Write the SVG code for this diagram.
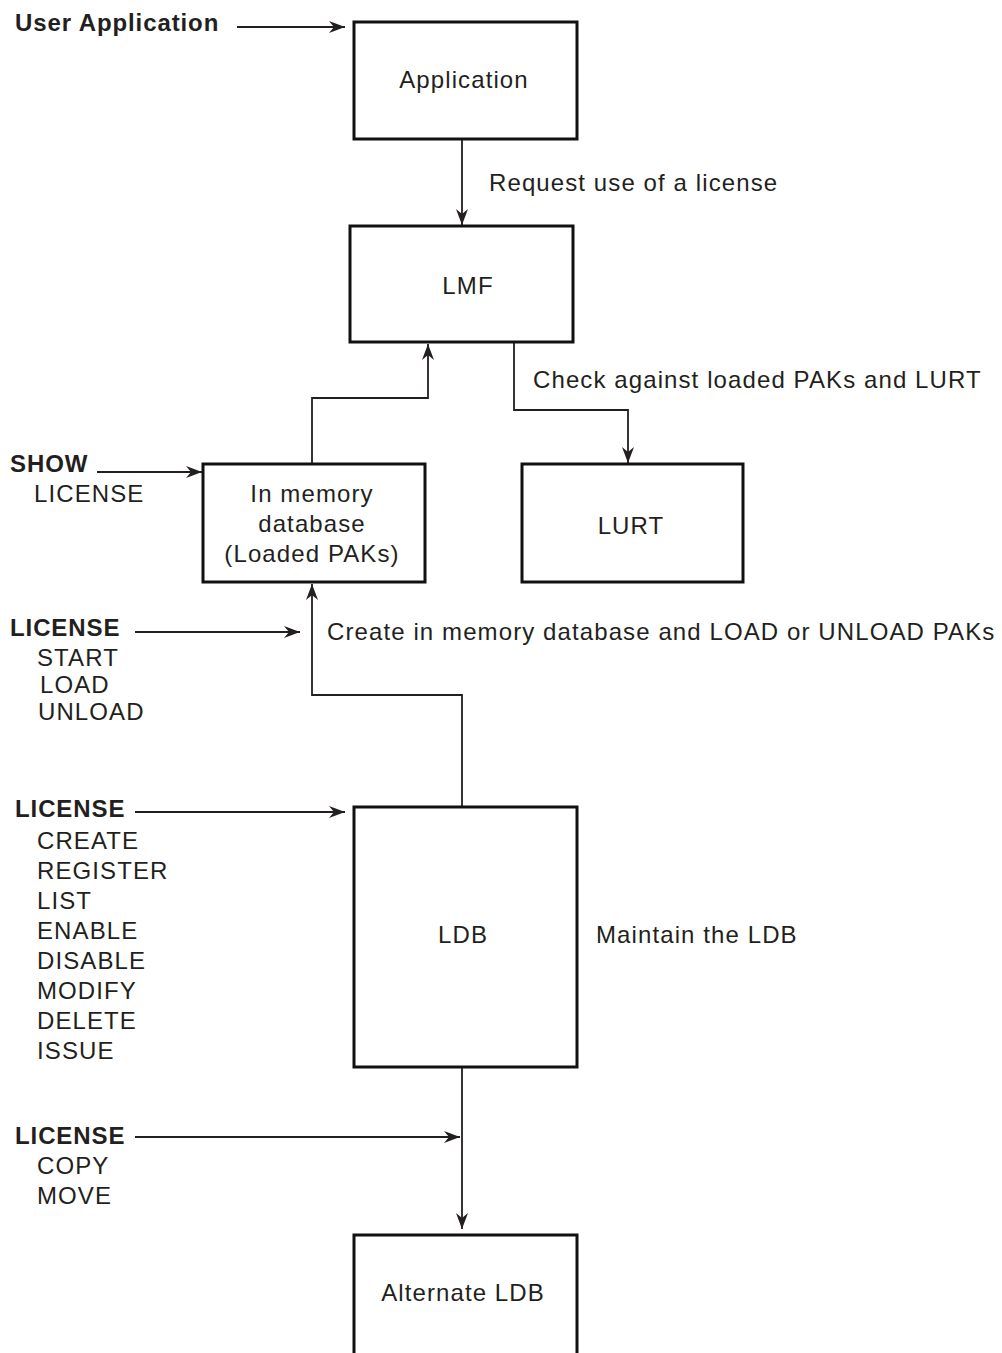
<svg xmlns="http://www.w3.org/2000/svg" width="1002" height="1353" viewBox="0 0 1002 1353">
<defs>
<style>
.box{fill:#fff;stroke:#111;stroke-width:3}
.t{font-family:"Liberation Sans",Arial,sans-serif;font-size:24px;letter-spacing:1.1px;fill:#231f20}
.b{font-weight:bold;letter-spacing:0.9px}
.m{text-anchor:middle}
.ln{fill:none;stroke:#231f20;stroke-width:1.8}
</style>
<marker id="ah" markerUnits="userSpaceOnUse" markerWidth="18" markerHeight="14" refX="16" refY="6" orient="auto">
<path d="M0,0 L16,6 L0,12 L5,6 z" fill="#231f20"/>
</marker>
</defs>
<rect width="1002" height="1353" fill="#fff"/>

<g id="connectors">
<line class="ln" x1="237" y1="27" x2="345" y2="27" marker-end="url(#ah)"/>
<line class="ln" x1="462" y1="139" x2="462" y2="225" marker-end="url(#ah)"/>
<polyline class="ln" points="514,342 514,410 628,410 628,463" marker-end="url(#ah)"/>
<polyline class="ln" points="312,464 312,398 428,398 428,344" marker-end="url(#ah)"/>
<line class="ln" x1="97" y1="472" x2="202" y2="472" marker-end="url(#ah)"/>
<polyline class="ln" points="462,807 462,695 312,695 312,584" marker-end="url(#ah)"/>
<line class="ln" x1="135" y1="632" x2="300" y2="632" marker-end="url(#ah)"/>
<line class="ln" x1="135" y1="812" x2="345" y2="812" marker-end="url(#ah)"/>
<line class="ln" x1="462" y1="1067" x2="462" y2="1229" marker-end="url(#ah)"/>
<line class="ln" x1="135" y1="1137" x2="460" y2="1137" marker-end="url(#ah)"/>
</g>

<g id="application">
<rect class="box" x="354" y="22" width="223" height="117"/>
<text class="t m" x="464" y="88">Application</text>
</g>
<g id="lmf">
<rect class="box" x="350" y="226" width="223" height="116"/>
<text class="t m" x="468" y="294">LMF</text>
</g>
<g id="inmemory">
<rect class="box" x="203" y="464" width="222" height="118"/>
<text class="t m" x="312" y="502">In memory</text>
<text class="t m" x="312" y="532">database</text>
<text class="t m" x="312" y="562">(Loaded PAKs)</text>
</g>
<g id="lurt">
<rect class="box" x="522" y="464" width="221" height="118"/>
<text class="t m" x="631" y="534">LURT</text>
</g>
<g id="ldb">
<rect class="box" x="354" y="807" width="223" height="260"/>
<text class="t m" x="463" y="943">LDB</text>
</g>
<g id="altldb">
<rect class="box" x="354" y="1235" width="223" height="125"/>
<text class="t m" x="463" y="1301">Alternate LDB</text>
</g>

<g id="labels">
<text class="t b" x="15" y="31">User Application</text>
<text class="t" x="489" y="191">Request use of a license</text>
<text class="t" x="533" y="388">Check against loaded PAKs and LURT</text>
<text class="t b" x="10" y="472">SHOW</text>
<text class="t" x="34" y="502">LICENSE</text>
<text class="t b" x="10" y="636">LICENSE</text>
<text class="t" x="37" y="666">START</text>
<text class="t" x="40" y="693">LOAD</text>
<text class="t" x="38" y="720">UNLOAD</text>
<text class="t" x="327" y="640">Create in memory database and LOAD or UNLOAD PAKs</text>
<text class="t b" x="15" y="817">LICENSE</text>
<text class="t" x="37" y="849">CREATE</text>
<text class="t" x="37" y="879">REGISTER</text>
<text class="t" x="37" y="909">LIST</text>
<text class="t" x="37" y="939">ENABLE</text>
<text class="t" x="37" y="969">DISABLE</text>
<text class="t" x="37" y="999">MODIFY</text>
<text class="t" x="37" y="1029">DELETE</text>
<text class="t" x="37" y="1059">ISSUE</text>
<text class="t" x="596" y="943">Maintain the LDB</text>
<text class="t b" x="15" y="1144">LICENSE</text>
<text class="t" x="37" y="1174">COPY</text>
<text class="t" x="37" y="1204">MOVE</text>
</g>
</svg>
